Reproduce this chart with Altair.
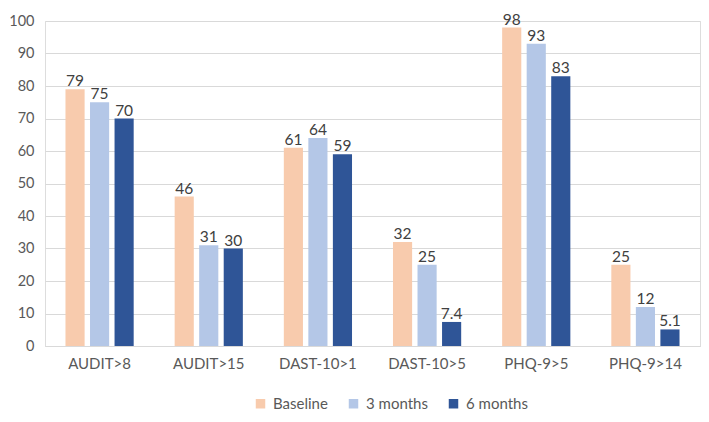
import altair as alt
import pandas as pd

categories = ["AUDIT>8", "AUDIT>15", "DAST-10>1", "DAST-10>5", "PHQ-9>5", "PHQ-9>14"]
series = ["Baseline", "3 months", "6 months"]
baseline = [79, 46, 61, 32, 98, 25]
months3 = [75, 31, 64, 25, 93, 12]
months6 = [70, 30, 59, 7.4, 83, 5.1]
colors = ["#F8CBAD", "#B4C7E7", "#2F5597"]

rows = []
for i, c in enumerate(categories):
    for s, vals in zip(series, [baseline, months3, months6]):
        rows.append({"cat": c, "series": s, "value": vals[i]})
df = pd.DataFrame(rows)

FONT = "Lato"

base = alt.Chart(df).encode(
    x=alt.X("cat:N", sort=categories, title=None,
            scale=alt.Scale(paddingInner=0, paddingOuter=0),
            axis=alt.Axis(labelAngle=0, labelFontSize=15, labelColor="#595959",
                          labelFont=FONT, ticks=False, domain=True,
                          domainColor="#D9D9D9", labelPadding=10, grid=False)),
    xOffset=alt.XOffset("series:N", sort=series,
                        scale=alt.Scale(paddingInner=0.22, paddingOuter=0.835)),
    y=alt.Y("value:Q", title=None,
            scale=alt.Scale(domain=[0, 100]),
            axis=alt.Axis(values=list(range(0, 101, 10)), labelFontSize=14.5,
                          labelColor="#595959", labelFont=FONT, ticks=False,
                          domain=False, gridColor="#D9D9D9", labelPadding=11)),
)

bars = base.mark_bar().encode(
    color=alt.Color("series:N", sort=series,
                    scale=alt.Scale(domain=series, range=colors),
                    legend=alt.Legend(title=None, orient="none", direction="horizontal",
                                      legendX=208, legendY=375,
                                      symbolType="square", symbolSize=90,
                                      labelFontSize=15, labelFont=FONT,
                                      labelOffset=5,
                                      labelColor="#595959", columnPadding=18,
                                      symbolStrokeWidth=0))
)

labels = base.mark_text(baseline="alphabetic", dy=-3, fontSize=15.5, font=FONT,
                        color="#404040").encode(text=alt.Text("value:Q"))

chart = alt.layer(bars, labels).properties(
    width=655, height=325,
    autosize=alt.AutoSizeParams(type="none"),
    padding={"left": 37, "top": 13, "right": 1, "bottom": 68},
).configure_view(stroke=None).configure(background="white")

chart.save("out.html", embed_options={"renderer": "svg", "actions": False})
